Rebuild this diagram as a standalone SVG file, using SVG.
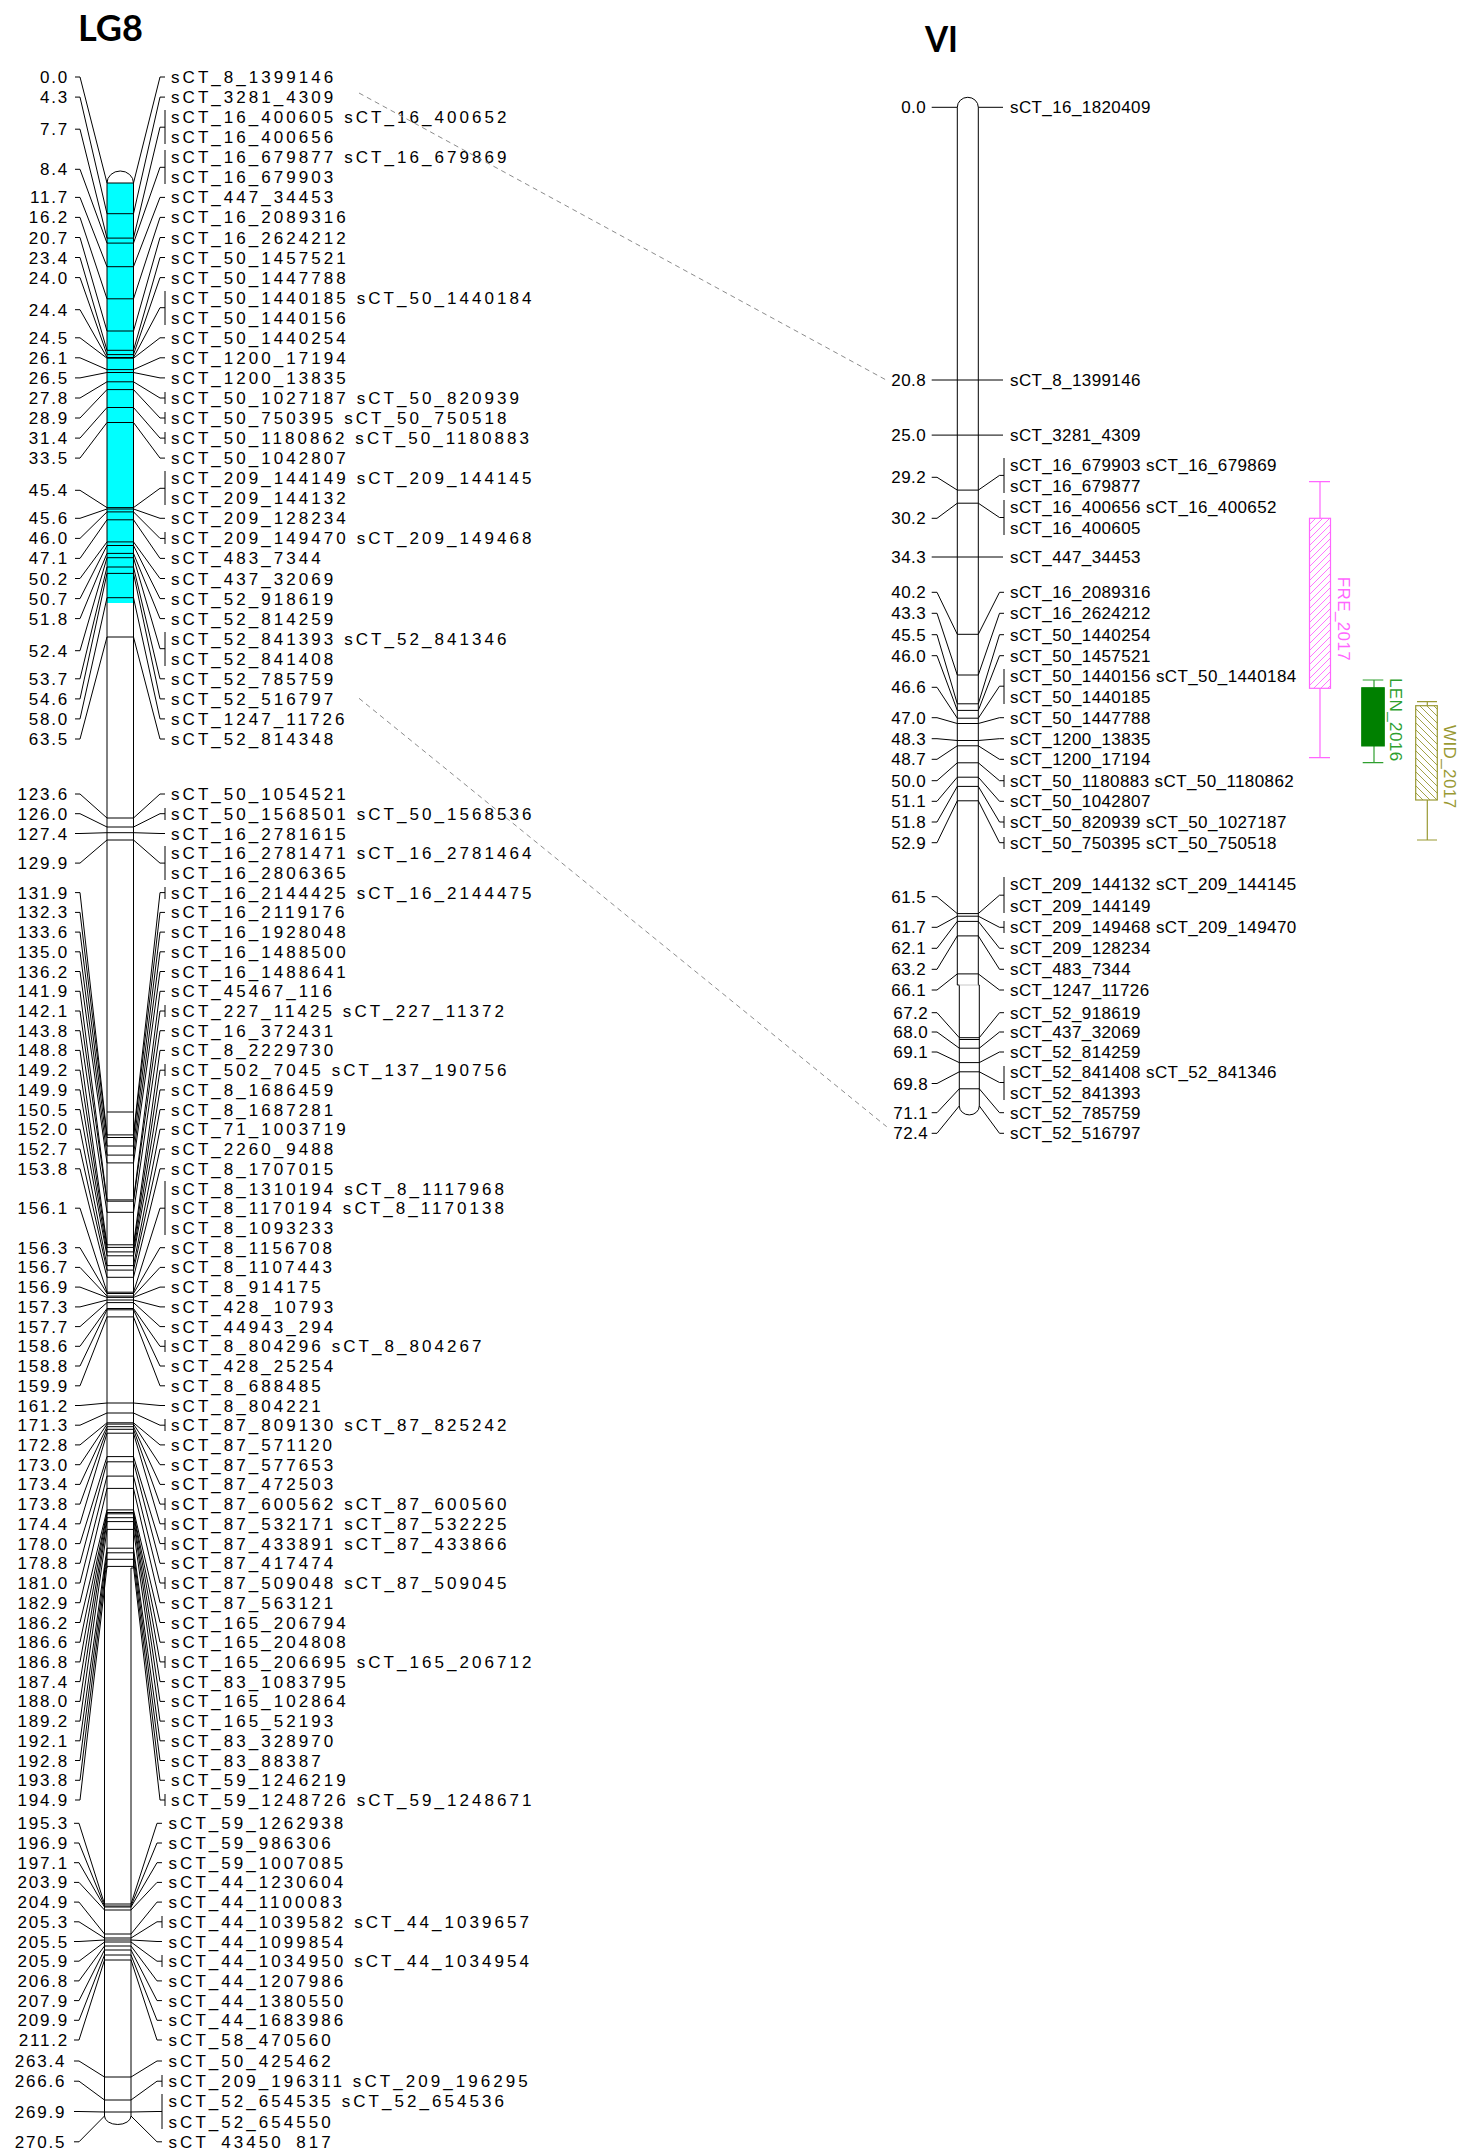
<svg xmlns="http://www.w3.org/2000/svg" width="1462" height="2148" viewBox="0 0 1462 2148">
<defs>
<style>
text{font-family:"Liberation Sans",Arial,sans-serif;font-size:17px;fill:#000}
.t8{letter-spacing:3.05px}
.n8{letter-spacing:1.8px;text-anchor:end}
.t6{letter-spacing:0.4px}
.n6{letter-spacing:0.4px;text-anchor:end}
.title{font-family:Lato,"Liberation Sans",sans-serif;font-weight:bold;font-size:37px}
.ln{fill:none;stroke:#000;stroke-width:1}
.dash{fill:none;stroke:#8c8c8c;stroke-width:1;stroke-dasharray:5 4}
.fre{fill:none;stroke:#ff66ff;stroke-width:1.2}
.len{fill:none;stroke:#2f9f2f;stroke-width:1.2}
.wid{fill:none;stroke:#999933;stroke-width:1.2}
</style>
<pattern id="hFRE" patternUnits="userSpaceOnUse" width="7" height="7"><path d="M-1 1L1 -1M0 7L7 0M6 8L8 6" stroke="#ff66ff" stroke-width="0.9"/></pattern>
<pattern id="hWID" patternUnits="userSpaceOnUse" width="7" height="7"><path d="M-1 6L1 8M0 0L7 7M6 -1L8 1" stroke="#999933" stroke-width="0.9"/></pattern>
</defs>
<rect width="1462" height="2148" fill="#fff"/>

<g id="LG8">
<text class="title" x="78" y="41" textLength="65" lengthAdjust="spacingAndGlyphs">LG8</text>
<rect x="107" y="183" width="26.5" height="420" fill="#00ffff"/>
<path class="ln" d="M107 183A13.25 12 0 0 1 133.5 183V1568H131V2116A13.25 8.5 0 0 1 104.5 2116V1568H107Z"/>
<path class="ln" d="M107 183H133.5M107 213.7H133.5M107 238.1H133.5M107 243.1H133.5M107 266.7H133.5M107 298.8H133.5M107 331H133.5M107 350.3H133.5M107 354.6H133.5M107 357.5H133.5M107 358.2H133.5M107 369.6H133.5M107 372.5H133.5M107 381.8H133.5M107 389.6H133.5M107 407.5H133.5M107 422.5H133.5M107 507.6H133.5M107 509H133.5M107 511.9H133.5M107 519.8H133.5M107 541.9H133.5M107 545.5H133.5M107 553.4H133.5M107 557.7H133.5M107 567H133.5M107 573.4H133.5M107 597.7H133.5M107 637H133.5M107 818H133.5M107 827H133.5M107 832.7H133.5M107 840H133.5M107 1112H133.5M107 1134.9H133.5M107 1137.5H133.5M107 1146H133.5M107 1155.1H133.5M107 1162.9H133.5M107 1199.9H133.5M107 1201.2H133.5M107 1212.3H133.5M107 1244.8H133.5M107 1247.4H133.5M107 1251.9H133.5M107 1255.8H133.5M107 1265.6H133.5M107 1270.1H133.5M107 1277.3H133.5M107 1292.2H133.5M107 1293.5H133.5M107 1296.1H133.5M107 1297.4H133.5M107 1300H133.5M107 1302.6H133.5M107 1308.5H133.5M107 1309.8H133.5M107 1316.9H133.5M107 1403H133.5M107 1413H133.5M107 1422.8H133.5M107 1424.1H133.5M107 1426.7H133.5M107 1429.3H133.5M107 1433.2H133.5M107 1456.6H133.5M107 1461.8H133.5M107 1476.1H133.5M107 1488.4H133.5M107 1509.9H133.5M107 1512.5H133.5M107 1513.8H133.5M107 1517.7H133.5M107 1521.6H133.5M107 1529.4H133.5M107 1548.2H133.5M107 1552.8H133.5M107 1559.3H133.5M107 1566.4H133.5M104.5 1904H131M104.5 1906H131M104.5 1907H131M104.5 1910H131M104.5 1934H131M104.5 1938H131M104.5 1940H131M104.5 1942H131M104.5 1946H131M104.5 1950H131M104.5 1955H131M104.5 1960H131M104.5 2077H131M104.5 2100H131M104.5 2112H131"/>
<path class="ln" d="M75 77H80L107 183M75 97.1H80L107 213.7M75 129.2H80L107 238.1M75 169.3H80L107 243.1M75 197.4H80L107 266.7M75 217.4H80L107 298.8M75 237.5H80L107 331M75 257.5H80L107 350.3M75 277.6H80L107 354.6M75 309.7H80L107 357.5M75 337.8H80L107 358.2M75 357.8H80L107 369.6M75 377.9H80L107 372.5M75 398H80L107 381.8M75 418H80L107 389.6M75 438.1H80L107 407.5M75 458.1H80L107 422.5M75 490.3H80L107 507.6M75 518.3H80L107 509M75 538.4H80L107 511.9M75 558.4H80L107 519.8M75 578.5H80L107 541.9M75 598.6H80L107 545.5M75 618.6H80L107 553.4M75 650.7H80L107 557.7M75 678.8H80L107 567M75 698.9H80L107 573.4M75 718.9H80L107 597.7M75 739H80L107 637M75 794H80L107 818M75 813.7H80L107 827M75 833.5H80L107 832.7M75 863.1H80L107 840M75 892.6H80L107 1134.9M75 912.4H80L107 1137.5M75 932.1H80L107 1146M75 951.8H80L107 1155.1M75 971.5H80L107 1162.9M75 991.3H80L107 1199.9M75 1011H80L107 1201.2M75 1030.7H80L107 1212.3M75 1050.4H80L107 1244.8M75 1070.2H80L107 1247.4M75 1089.9H80L107 1251.9M75 1109.6H80L107 1255.8M75 1129.3H80L107 1265.6M75 1149.1H80L107 1270.1M75 1168.8H80L107 1277.3M75 1208.2H80L107 1292.2M75 1247.7H80L107 1293.5M75 1267.4H80L107 1296.1M75 1287.1H80L107 1297.4M75 1306.9H80L107 1300M75 1326.6H80L107 1302.6M75 1346.3H80L107 1308.5M75 1366H80L107 1309.8M75 1385.8H80L107 1316.9M75 1405.5H80L107 1403M75 1425.2H80L107 1413M75 1444.9H80L107 1422.8M75 1464.7H80L107 1424.1M75 1484.4H80L107 1426.7M75 1504.1H80L107 1429.3M75 1523.8H80L107 1433.2M75 1543.6H80L107 1456.6M75 1563.3H80L107 1461.8M75 1583H80L107 1476.1M75 1602.7H80L107 1488.4M75 1622.5H80L107 1509.9M75 1642.2H80L107 1512.5M75 1661.9H80L107 1513.8M75 1681.6H80L107 1517.7M75 1701.4H80L107 1521.6M75 1721.1H80L107 1529.4M75 1740.8H80L107 1548.2M75 1760.5H80L107 1552.8M75 1780.3H80L107 1559.3M75 1800H80L107 1566.4M74 1823.3H79L104.5 1904M74 1843H79L104.5 1906M74 1862.7H79L104.5 1907M74 1882.4H79L104.5 1910M74 1902.1H79L104.5 1934M74 1921.8H79L104.5 1938M74 1941.5H79L104.5 1940M74 1961.2H79L104.5 1942M74 1980.9H79L104.5 1946M74 2000.6H79L104.5 1950M74 2020.3H79L104.5 1955M74 2040H79L104.5 1960M74 2061H79L104.5 2077M74 2081.2H79L104.5 2100M74 2111.5H79L104.5 2112M74 2141.8H79L104.5 2116"/>
<path class="ln" d="M133.5 183L160 77H165M133.5 213.7L160 97.1H165M133.5 238.1L160 127.2H165M133.5 243.1L160 167.3H165M133.5 266.7L160 197.4H165M133.5 298.8L160 217.4H165M133.5 331L160 237.5H165M133.5 350.3L160 257.5H165M133.5 354.6L160 277.6H165M133.5 357.5L160 307.7H165M133.5 358.2L160 337.8H165M133.5 369.6L160 357.8H165M133.5 372.5L160 377.9H165M133.5 381.8L160 398H165M133.5 389.6L160 418H165M133.5 407.5L160 438.1H165M133.5 422.5L160 458.1H165M133.5 507.6L160 488.3H165M133.5 509L160 518.3H165M133.5 511.9L160 538.4H165M133.5 519.8L160 558.4H165M133.5 541.9L160 578.5H165M133.5 545.5L160 598.6H165M133.5 553.4L160 618.6H165M133.5 557.7L160 648.7H165M133.5 567L160 678.8H165M133.5 573.4L160 698.9H165M133.5 597.7L160 718.9H165M133.5 637L160 739H165M133.5 818L160 794H165M133.5 827L160 813.7H165M133.5 832.7L160 833.5H165M133.5 840L160 863.1H165M133.5 1134.9L160 892.6H165M133.5 1137.5L160 912.4H165M133.5 1146L160 932.1H165M133.5 1155.1L160 951.8H165M133.5 1162.9L160 971.5H165M133.5 1199.9L160 991.3H165M133.5 1201.2L160 1011H165M133.5 1212.3L160 1030.7H165M133.5 1244.8L160 1050.4H165M133.5 1247.4L160 1070.2H165M133.5 1251.9L160 1089.9H165M133.5 1255.8L160 1109.6H165M133.5 1265.6L160 1129.3H165M133.5 1270.1L160 1149.1H165M133.5 1277.3L160 1168.8H165M133.5 1292.2L160 1208.2H165M133.5 1293.5L160 1247.7H165M133.5 1296.1L160 1267.4H165M133.5 1297.4L160 1287.1H165M133.5 1300L160 1306.9H165M133.5 1302.6L160 1326.6H165M133.5 1308.5L160 1346.3H165M133.5 1309.8L160 1366H165M133.5 1316.9L160 1385.8H165M133.5 1403L160 1405.5H165M133.5 1413L160 1425.2H165M133.5 1422.8L160 1444.9H165M133.5 1424.1L160 1464.7H165M133.5 1426.7L160 1484.4H165M133.5 1429.3L160 1504.1H165M133.5 1433.2L160 1523.8H165M133.5 1456.6L160 1543.6H165M133.5 1461.8L160 1563.3H165M133.5 1476.1L160 1583H165M133.5 1488.4L160 1602.7H165M133.5 1509.9L160 1622.5H165M133.5 1512.5L160 1642.2H165M133.5 1513.8L160 1661.9H165M133.5 1517.7L160 1681.6H165M133.5 1521.6L160 1701.4H165M133.5 1529.4L160 1721.1H165M133.5 1548.2L160 1740.8H165M133.5 1552.8L160 1760.5H165M133.5 1559.3L160 1780.3H165M133.5 1566.4L160 1800H165M131 1904L157 1823.3H162M131 1906L157 1843H162M131 1907L157 1862.7H162M131 1910L157 1882.4H162M131 1934L157 1902.1H162M131 1938L157 1921.8H162M131 1940L157 1941.5H162M131 1942L157 1961.2H162M131 1946L157 1980.9H162M131 1950L157 2000.6H162M131 1955L157 2020.3H162M131 1960L157 2040H162M131 2077L157 2061H162M131 2100L157 2081.2H162M131 2112L157 2111.5H162M131 2116L157 2141.8H162"/>
<path class="ln" d="M165 110V144M165 150V184M165 291V325M165 392V404M165 412V424M165 432V444M165 471V505M165 532V544M165 632V666M165 808V820M165 846V880M165 887V899M165 1005V1017M165 1064V1076M165 1181V1235M165 1340V1352M165 1419V1431M165 1498V1510M165 1518V1530M165 1537V1550M165 1577V1589M165 1656V1668M165 1794V1806M162 1916V1928M162 1955V1967M162 2075V2087M162 2094V2129"/>
<g transform="translate(0,6)">
<text class="n8" x="69" y="77">0.0</text>
<text class="n8" x="69" y="97.1">4.3</text>
<text class="n8" x="69" y="129.2">7.7</text>
<text class="n8" x="69" y="169.3">8.4</text>
<text class="n8" x="69" y="197.4">11.7</text>
<text class="n8" x="69" y="217.4">16.2</text>
<text class="n8" x="69" y="237.5">20.7</text>
<text class="n8" x="69" y="257.5">23.4</text>
<text class="n8" x="69" y="277.6">24.0</text>
<text class="n8" x="69" y="309.7">24.4</text>
<text class="n8" x="69" y="337.8">24.5</text>
<text class="n8" x="69" y="357.8">26.1</text>
<text class="n8" x="69" y="377.9">26.5</text>
<text class="n8" x="69" y="398">27.8</text>
<text class="n8" x="69" y="418">28.9</text>
<text class="n8" x="69" y="438.1">31.4</text>
<text class="n8" x="69" y="458.1">33.5</text>
<text class="n8" x="69" y="490.3">45.4</text>
<text class="n8" x="69" y="518.3">45.6</text>
<text class="n8" x="69" y="538.4">46.0</text>
<text class="n8" x="69" y="558.4">47.1</text>
<text class="n8" x="69" y="578.5">50.2</text>
<text class="n8" x="69" y="598.6">50.7</text>
<text class="n8" x="69" y="618.6">51.8</text>
<text class="n8" x="69" y="650.7">52.4</text>
<text class="n8" x="69" y="678.8">53.7</text>
<text class="n8" x="69" y="698.9">54.6</text>
<text class="n8" x="69" y="718.9">58.0</text>
<text class="n8" x="69" y="739">63.5</text>
<text class="n8" x="69" y="794">123.6</text>
<text class="n8" x="69" y="813.7">126.0</text>
<text class="n8" x="69" y="833.5">127.4</text>
<text class="n8" x="69" y="863.1">129.9</text>
<text class="n8" x="69" y="892.6">131.9</text>
<text class="n8" x="69" y="912.4">132.3</text>
<text class="n8" x="69" y="932.1">133.6</text>
<text class="n8" x="69" y="951.8">135.0</text>
<text class="n8" x="69" y="971.5">136.2</text>
<text class="n8" x="69" y="991.3">141.9</text>
<text class="n8" x="69" y="1011">142.1</text>
<text class="n8" x="69" y="1030.7">143.8</text>
<text class="n8" x="69" y="1050.4">148.8</text>
<text class="n8" x="69" y="1070.2">149.2</text>
<text class="n8" x="69" y="1089.9">149.9</text>
<text class="n8" x="69" y="1109.6">150.5</text>
<text class="n8" x="69" y="1129.3">152.0</text>
<text class="n8" x="69" y="1149.1">152.7</text>
<text class="n8" x="69" y="1168.8">153.8</text>
<text class="n8" x="69" y="1208.2">156.1</text>
<text class="n8" x="69" y="1247.7">156.3</text>
<text class="n8" x="69" y="1267.4">156.7</text>
<text class="n8" x="69" y="1287.1">156.9</text>
<text class="n8" x="69" y="1306.9">157.3</text>
<text class="n8" x="69" y="1326.6">157.7</text>
<text class="n8" x="69" y="1346.3">158.6</text>
<text class="n8" x="69" y="1366">158.8</text>
<text class="n8" x="69" y="1385.8">159.9</text>
<text class="n8" x="69" y="1405.5">161.2</text>
<text class="n8" x="69" y="1425.2">171.3</text>
<text class="n8" x="69" y="1444.9">172.8</text>
<text class="n8" x="69" y="1464.7">173.0</text>
<text class="n8" x="69" y="1484.4">173.4</text>
<text class="n8" x="69" y="1504.1">173.8</text>
<text class="n8" x="69" y="1523.8">174.4</text>
<text class="n8" x="69" y="1543.6">178.0</text>
<text class="n8" x="69" y="1563.3">178.8</text>
<text class="n8" x="69" y="1583">181.0</text>
<text class="n8" x="69" y="1602.7">182.9</text>
<text class="n8" x="69" y="1622.5">186.2</text>
<text class="n8" x="69" y="1642.2">186.6</text>
<text class="n8" x="69" y="1661.9">186.8</text>
<text class="n8" x="69" y="1681.6">187.4</text>
<text class="n8" x="69" y="1701.4">188.0</text>
<text class="n8" x="69" y="1721.1">189.2</text>
<text class="n8" x="69" y="1740.8">192.1</text>
<text class="n8" x="69" y="1760.5">192.8</text>
<text class="n8" x="69" y="1780.3">193.8</text>
<text class="n8" x="69" y="1800">194.9</text>
<text class="n8" x="69" y="1823.3">195.3</text>
<text class="n8" x="69" y="1843">196.9</text>
<text class="n8" x="69" y="1862.7">197.1</text>
<text class="n8" x="69" y="1882.4">203.9</text>
<text class="n8" x="69" y="1902.1">204.9</text>
<text class="n8" x="69" y="1921.8">205.3</text>
<text class="n8" x="69" y="1941.5">205.5</text>
<text class="n8" x="69" y="1961.2">205.9</text>
<text class="n8" x="69" y="1980.9">206.8</text>
<text class="n8" x="69" y="2000.6">207.9</text>
<text class="n8" x="69" y="2020.3">209.9</text>
<text class="n8" x="69" y="2040">211.2</text>
<text class="n8" x="66.3" y="2061">263.4</text>
<text class="n8" x="66.3" y="2081.2">266.6</text>
<text class="n8" x="66.3" y="2111.5">269.9</text>
<text class="n8" x="66.3" y="2141.8">270.5</text>

<text class="t8" x="171" y="77">sCT_8_1399146</text>
<text class="t8" x="171" y="97.1">sCT_3281_4309</text>
<text class="t8" x="171" y="117.1">sCT_16_400605 sCT_16_400652</text>
<text class="t8" x="171" y="137.2">sCT_16_400656</text>
<text class="t8" x="171" y="157.2">sCT_16_679877 sCT_16_679869</text>
<text class="t8" x="171" y="177.3">sCT_16_679903</text>
<text class="t8" x="171" y="197.4">sCT_447_34453</text>
<text class="t8" x="171" y="217.4">sCT_16_2089316</text>
<text class="t8" x="171" y="237.5">sCT_16_2624212</text>
<text class="t8" x="171" y="257.5">sCT_50_1457521</text>
<text class="t8" x="171" y="277.6">sCT_50_1447788</text>
<text class="t8" x="171" y="297.7">sCT_50_1440185 sCT_50_1440184</text>
<text class="t8" x="171" y="317.7">sCT_50_1440156</text>
<text class="t8" x="171" y="337.8">sCT_50_1440254</text>
<text class="t8" x="171" y="357.8">sCT_1200_17194</text>
<text class="t8" x="171" y="377.9">sCT_1200_13835</text>
<text class="t8" x="171" y="398">sCT_50_1027187 sCT_50_820939</text>
<text class="t8" x="171" y="418">sCT_50_750395 sCT_50_750518</text>
<text class="t8" x="171" y="438.1">sCT_50_1180862 sCT_50_1180883</text>
<text class="t8" x="171" y="458.1">sCT_50_1042807</text>
<text class="t8" x="171" y="478.2">sCT_209_144149 sCT_209_144145</text>
<text class="t8" x="171" y="498.3">sCT_209_144132</text>
<text class="t8" x="171" y="518.3">sCT_209_128234</text>
<text class="t8" x="171" y="538.4">sCT_209_149470 sCT_209_149468</text>
<text class="t8" x="171" y="558.4">sCT_483_7344</text>
<text class="t8" x="171" y="578.5">sCT_437_32069</text>
<text class="t8" x="171" y="598.6">sCT_52_918619</text>
<text class="t8" x="171" y="618.6">sCT_52_814259</text>
<text class="t8" x="171" y="638.7">sCT_52_841393 sCT_52_841346</text>
<text class="t8" x="171" y="658.7">sCT_52_841408</text>
<text class="t8" x="171" y="678.8">sCT_52_785759</text>
<text class="t8" x="171" y="698.9">sCT_52_516797</text>
<text class="t8" x="171" y="718.9">sCT_1247_11726</text>
<text class="t8" x="171" y="739">sCT_52_814348</text>
<text class="t8" x="171" y="794">sCT_50_1054521</text>
<text class="t8" x="171" y="813.7">sCT_50_1568501 sCT_50_1568536</text>
<text class="t8" x="171" y="833.5">sCT_16_2781615</text>
<text class="t8" x="171" y="853.2">sCT_16_2781471 sCT_16_2781464</text>
<text class="t8" x="171" y="872.9">sCT_16_2806365</text>
<text class="t8" x="171" y="892.6">sCT_16_2144425 sCT_16_2144475</text>
<text class="t8" x="171" y="912.4">sCT_16_2119176</text>
<text class="t8" x="171" y="932.1">sCT_16_1928048</text>
<text class="t8" x="171" y="951.8">sCT_16_1488500</text>
<text class="t8" x="171" y="971.5">sCT_16_1488641</text>
<text class="t8" x="171" y="991.3">sCT_45467_116</text>
<text class="t8" x="171" y="1011">sCT_227_11425 sCT_227_11372</text>
<text class="t8" x="171" y="1030.7">sCT_16_372431</text>
<text class="t8" x="171" y="1050.4">sCT_8_2229730</text>
<text class="t8" x="171" y="1070.2">sCT_502_7045 sCT_137_190756</text>
<text class="t8" x="171" y="1089.9">sCT_8_1686459</text>
<text class="t8" x="171" y="1109.6">sCT_8_1687281</text>
<text class="t8" x="171" y="1129.3">sCT_71_1003719</text>
<text class="t8" x="171" y="1149.1">sCT_2260_9488</text>
<text class="t8" x="171" y="1168.8">sCT_8_1707015</text>
<text class="t8" x="171" y="1188.5">sCT_8_1310194 sCT_8_1117968</text>
<text class="t8" x="171" y="1208.2">sCT_8_1170194 sCT_8_1170138</text>
<text class="t8" x="171" y="1228">sCT_8_1093233</text>
<text class="t8" x="171" y="1247.7">sCT_8_1156708</text>
<text class="t8" x="171" y="1267.4">sCT_8_1107443</text>
<text class="t8" x="171" y="1287.1">sCT_8_914175</text>
<text class="t8" x="171" y="1306.9">sCT_428_10793</text>
<text class="t8" x="171" y="1326.6">sCT_44943_294</text>
<text class="t8" x="171" y="1346.3">sCT_8_804296 sCT_8_804267</text>
<text class="t8" x="171" y="1366">sCT_428_25254</text>
<text class="t8" x="171" y="1385.8">sCT_8_688485</text>
<text class="t8" x="171" y="1405.5">sCT_8_804221</text>
<text class="t8" x="171" y="1425.2">sCT_87_809130 sCT_87_825242</text>
<text class="t8" x="171" y="1444.9">sCT_87_571120</text>
<text class="t8" x="171" y="1464.7">sCT_87_577653</text>
<text class="t8" x="171" y="1484.4">sCT_87_472503</text>
<text class="t8" x="171" y="1504.1">sCT_87_600562 sCT_87_600560</text>
<text class="t8" x="171" y="1523.8">sCT_87_532171 sCT_87_532225</text>
<text class="t8" x="171" y="1543.6">sCT_87_433891 sCT_87_433866</text>
<text class="t8" x="171" y="1563.3">sCT_87_417474</text>
<text class="t8" x="171" y="1583">sCT_87_509048 sCT_87_509045</text>
<text class="t8" x="171" y="1602.7">sCT_87_563121</text>
<text class="t8" x="171" y="1622.5">sCT_165_206794</text>
<text class="t8" x="171" y="1642.2">sCT_165_204808</text>
<text class="t8" x="171" y="1661.9">sCT_165_206695 sCT_165_206712</text>
<text class="t8" x="171" y="1681.6">sCT_83_1083795</text>
<text class="t8" x="171" y="1701.4">sCT_165_102864</text>
<text class="t8" x="171" y="1721.1">sCT_165_52193</text>
<text class="t8" x="171" y="1740.8">sCT_83_328970</text>
<text class="t8" x="171" y="1760.5">sCT_83_88387</text>
<text class="t8" x="171" y="1780.3">sCT_59_1246219</text>
<text class="t8" x="171" y="1800">sCT_59_1248726 sCT_59_1248671</text>
<text class="t8" x="168.5" y="1823.3">sCT_59_1262938</text>
<text class="t8" x="168.5" y="1843">sCT_59_986306</text>
<text class="t8" x="168.5" y="1862.7">sCT_59_1007085</text>
<text class="t8" x="168.5" y="1882.4">sCT_44_1230604</text>
<text class="t8" x="168.5" y="1902.1">sCT_44_1100083</text>
<text class="t8" x="168.5" y="1921.8">sCT_44_1039582 sCT_44_1039657</text>
<text class="t8" x="168.5" y="1941.5">sCT_44_1099854</text>
<text class="t8" x="168.5" y="1961.2">sCT_44_1034950 sCT_44_1034954</text>
<text class="t8" x="168.5" y="1980.9">sCT_44_1207986</text>
<text class="t8" x="168.5" y="2000.6">sCT_44_1380550</text>
<text class="t8" x="168.5" y="2020.3">sCT_44_1683986</text>
<text class="t8" x="168.5" y="2040">sCT_58_470560</text>
<text class="t8" x="168.5" y="2061">sCT_50_425462</text>
<text class="t8" x="168.5" y="2081.2">sCT_209_196311 sCT_209_196295</text>
<text class="t8" x="168.5" y="2101.4">sCT_52_654535 sCT_52_654536</text>
<text class="t8" x="168.5" y="2121.6">sCT_52_654550</text>
<text class="t8" x="168.5" y="2141.8">sCT_43450_817</text>
</g>
</g>

<g id="VI">
<text class="title" x="925" y="52" textLength="33" lengthAdjust="spacingAndGlyphs">VI</text>
<path class="ln" d="M957.3 107.3A10.5 10 0 0 1 978.3 107.3V985H979.3V1105.9A10 9 0 0 1 959.3 1105.9V985H957.3Z"/>
<path d="M959.3 985H978.3" stroke="#c8c8c8" stroke-width="1"/>
<path class="ln" d="M957.3 380H978.3M957.3 435.1H978.3M957.3 490.1H978.3M957.3 503.2H978.3M957.3 557H978.3M957.3 634.3H978.3M957.3 675H978.3M957.3 703.8H978.3M957.3 710.4H978.3M957.3 718.2H978.3M957.3 723.5H978.3M957.3 740.5H978.3M957.3 745.8H978.3M957.3 762.8H978.3M957.3 777.2H978.3M957.3 786.4H978.3M957.3 800.8H978.3M957.3 913.6H978.3M957.3 916.2H978.3M957.3 921.4H978.3M957.3 935.9H978.3M957.3 973.9H978.3M959.3 1037.7H979.3M959.3 1039.5H979.3M959.3 1048.2H979.3M959.3 1062.6H979.3M959.3 1071.8H979.3M959.3 1088.8H979.3"/>
<path class="ln" d="M931.7 107.3H957.3M931.7 380H957.3M931.7 435.1H957.3M931.7 477.3H937L957.3 490.1M931.7 518.3H937L957.3 503.2M931.7 557H957.3M931.7 592.3H937L957.3 634.3M931.7 613.3H937L957.3 675M931.7 634.7H937L957.3 703.8M931.7 655.7H937L957.3 710.4M931.7 687.3H937L957.3 718.2M931.7 717.7H937L957.3 723.5M931.7 738.7H937L957.3 740.5M931.7 759.3H937L957.3 745.8M931.7 780.7H937L957.3 762.8M931.7 801.3H937L957.3 777.2M931.7 822H937L957.3 786.4M931.7 842.7H937L957.3 800.8M931.7 896.7H937L957.3 913.6M931.7 927.3H937L957.3 916.2M931.7 948.3H937L957.3 921.4M931.7 969.3H937L957.3 935.9M931.7 990H937L957.3 973.9M931.7 1012.7H937L959.3 1037.7M931.7 1032H937L959.3 1048.2M931.7 1052H937L959.3 1062.6M931.7 1083.5H937L959.3 1071.8M931.7 1112.7H937L959.3 1088.8M931.7 1133.3H937L959.3 1105.9"/>
<path class="ln" d="M978.3 107.3H1003M978.3 380H1003M978.3 435.1H1003M978.3 490.1L999.5 475.4H1004M978.3 503.2L999.5 517.5H1004M978.3 557H1003M978.3 634.3L999.5 592.3H1004M978.3 675L999.5 613.3H1004M978.3 703.8L999.5 634.7H1004M978.3 710.4L999.5 655.7H1004M978.3 718.2L999.5 686.2H1004M978.3 723.5L999.5 717.7H1004M978.3 740.5L999.5 738.7H1004M978.3 745.8L999.5 759.3H1004M978.3 762.8L999.5 780.7H1004M978.3 777.2L999.5 801.3H1004M978.3 786.4L999.5 822H1004M978.3 800.8L999.5 842.7H1004M978.3 913.6L999.5 895.2H1004M978.3 916.2L999.5 927.3H1004M978.3 921.4L999.5 948.3H1004M978.3 935.9L999.5 969.3H1004M978.3 973.9L999.5 990H1004M979.3 1037.7L999.5 1012.7H1004M979.3 1048.2L999.5 1032H1004M979.3 1062.6L999.5 1052H1004M979.3 1071.8L999.5 1082.5H1004M979.3 1088.8L999.5 1112.7H1004M979.3 1105.9L999.5 1133.3H1004"/>
<path class="ln" d="M1004 458V493M1004 500V535M1004 669V704M1004 775V787M1004 816V828M1004 837V849M1004 877V913M1004 921V933M1004 1066V1100"/>
<g transform="translate(0,6)">
<text class="n6" x="926" y="107.3">0.0</text>
<text class="n6" x="926" y="380">20.8</text>
<text class="n6" x="926" y="435.1">25.0</text>
<text class="n6" x="926" y="477.3">29.2</text>
<text class="n6" x="926" y="518.3">30.2</text>
<text class="n6" x="926" y="557">34.3</text>
<text class="n6" x="926" y="592.3">40.2</text>
<text class="n6" x="926" y="613.3">43.3</text>
<text class="n6" x="926" y="634.7">45.5</text>
<text class="n6" x="926" y="655.7">46.0</text>
<text class="n6" x="926" y="687.3">46.6</text>
<text class="n6" x="926" y="717.7">47.0</text>
<text class="n6" x="926" y="738.7">48.3</text>
<text class="n6" x="926" y="759.3">48.7</text>
<text class="n6" x="926" y="780.7">50.0</text>
<text class="n6" x="926" y="801.3">51.1</text>
<text class="n6" x="926" y="822">51.8</text>
<text class="n6" x="926" y="842.7">52.9</text>
<text class="n6" x="926" y="896.7">61.5</text>
<text class="n6" x="926" y="927.3">61.7</text>
<text class="n6" x="926" y="948.3">62.1</text>
<text class="n6" x="926" y="969.3">63.2</text>
<text class="n6" x="926" y="990">66.1</text>
<text class="n6" x="928" y="1012.7">67.2</text>
<text class="n6" x="928" y="1032">68.0</text>
<text class="n6" x="928" y="1052">69.1</text>
<text class="n6" x="928" y="1083.5">69.8</text>
<text class="n6" x="928" y="1112.7">71.1</text>
<text class="n6" x="928" y="1133.3">72.4</text>

<text class="t6" x="1010" y="107.3">sCT_16_1820409</text>
<text class="t6" x="1010" y="380">sCT_8_1399146</text>
<text class="t6" x="1010" y="435.1">sCT_3281_4309</text>
<text class="t6" x="1010" y="465">sCT_16_679903 sCT_16_679869</text>
<text class="t6" x="1010" y="485.7">sCT_16_679877</text>
<text class="t6" x="1010" y="507">sCT_16_400656 sCT_16_400652</text>
<text class="t6" x="1010" y="528">sCT_16_400605</text>
<text class="t6" x="1010" y="557">sCT_447_34453</text>
<text class="t6" x="1010" y="592.3">sCT_16_2089316</text>
<text class="t6" x="1010" y="613.3">sCT_16_2624212</text>
<text class="t6" x="1010" y="634.7">sCT_50_1440254</text>
<text class="t6" x="1010" y="655.7">sCT_50_1457521</text>
<text class="t6" x="1010" y="675.7">sCT_50_1440156 sCT_50_1440184</text>
<text class="t6" x="1010" y="696.7">sCT_50_1440185</text>
<text class="t6" x="1010" y="717.7">sCT_50_1447788</text>
<text class="t6" x="1010" y="738.7">sCT_1200_13835</text>
<text class="t6" x="1010" y="759.3">sCT_1200_17194</text>
<text class="t6" x="1010" y="780.7">sCT_50_1180883 sCT_50_1180862</text>
<text class="t6" x="1010" y="801.3">sCT_50_1042807</text>
<text class="t6" x="1010" y="822">sCT_50_820939 sCT_50_1027187</text>
<text class="t6" x="1010" y="842.7">sCT_50_750395 sCT_50_750518</text>
<text class="t6" x="1010" y="884.3">sCT_209_144132 sCT_209_144145</text>
<text class="t6" x="1010" y="906">sCT_209_144149</text>
<text class="t6" x="1010" y="927.3">sCT_209_149468 sCT_209_149470</text>
<text class="t6" x="1010" y="948.3">sCT_209_128234</text>
<text class="t6" x="1010" y="969.3">sCT_483_7344</text>
<text class="t6" x="1010" y="990">sCT_1247_11726</text>
<text class="t6" x="1010" y="1012.7">sCT_52_918619</text>
<text class="t6" x="1010" y="1032">sCT_437_32069</text>
<text class="t6" x="1010" y="1052">sCT_52_814259</text>
<text class="t6" x="1010" y="1072.3">sCT_52_841408 sCT_52_841346</text>
<text class="t6" x="1010" y="1092.7">sCT_52_841393</text>
<text class="t6" x="1010" y="1112.7">sCT_52_785759</text>
<text class="t6" x="1010" y="1133.3">sCT_52_516797</text>
</g>
</g>

<g id="qtl-FRE_2017">
<path class="fre" d="M1320 481.7V518.3M1320 688.3V757.7M1309 481.7H1330M1309 757.7H1330"/>
<rect x="1309.5" y="518.3" width="21" height="170" fill="url(#hFRE)" stroke="#ff66ff" stroke-width="1.2"/>
<text transform="translate(1338,576.7) rotate(90)" class="t6" style="fill:#ff66ff">FRE_2017</text>
</g>
<g id="qtl-LEN_2016">
<path class="len" d="M1374 680V687.7M1374 746V762.7M1362.7 680H1383.3M1362.7 762.7H1383.3"/>
<rect x="1361.7" y="687.7" width="22.6" height="58.3" fill="#008000" stroke="#008000"/>
<text transform="translate(1390,678) rotate(90)" class="t6" style="fill:#2f9f2f">LEN_2016</text>
</g>
<g id="qtl-WID_2017">
<path class="wid" d="M1427.3 701.7V705.7M1427.3 800V840M1417 701.7H1437M1417 840H1437"/>
<rect x="1415.7" y="705.7" width="21.6" height="94.3" fill="url(#hWID)" stroke="#999933" stroke-width="1.2"/>
<text transform="translate(1444,725) rotate(90)" class="t6" style="fill:#999933">WID_2017</text>
</g>

<g id="connectors">
<path class="dash" d="M359 93L888 381"/>
<path class="dash" d="M359 698.3L886.7 1126.7"/>
</g>
</svg>
